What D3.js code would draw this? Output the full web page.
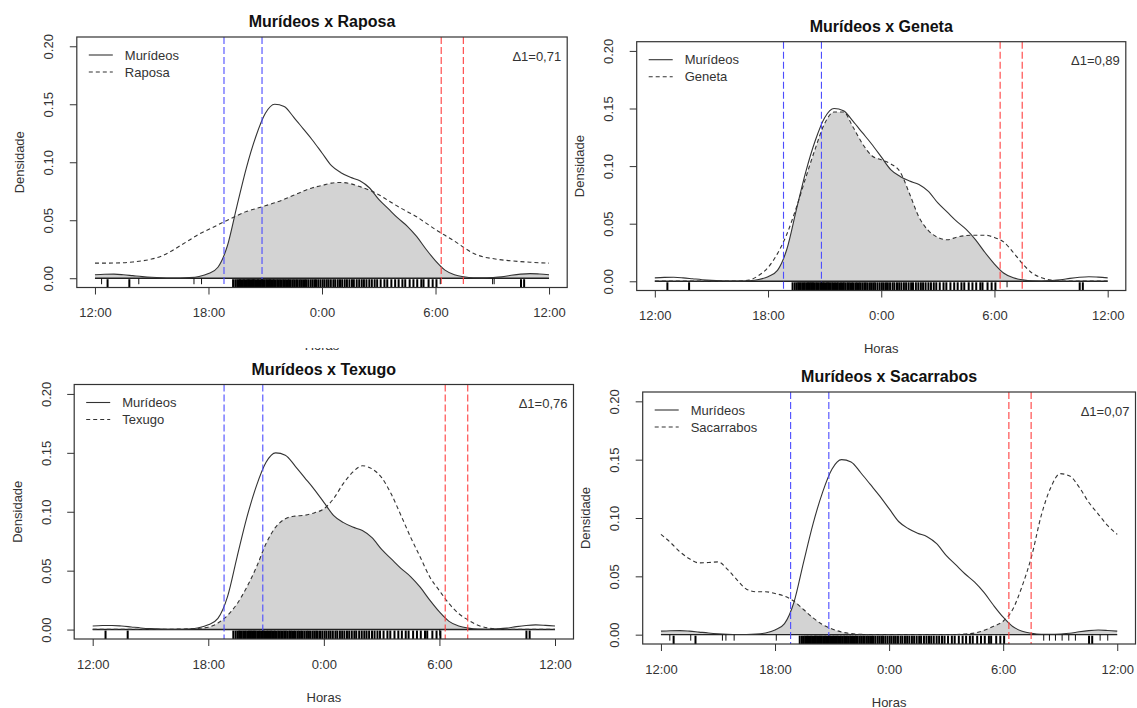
<!DOCTYPE html>
<html>
<head>
<meta charset="utf-8">
<script src="https://cdnjs.cloudflare.com/ajax/libs/d3/7.8.5/d3.min.js"></script>
<style>
  body { margin: 0; background: #fff; }
  svg { display: block; font-family: "Liberation Sans", Arial, sans-serif; }
</style>
</head>
<body>
<div id="chart"></div>
<script>
// horas relativas à meia-noite (-12 = 12:00 ... 0 = 0:00 ... 12 = 12:00)
const horas = [-12, -11.5, -11, -10.5, -10, -9.5, -9, -8.5, -8, -7.5, -7, -6.5,
    -6, -5.5, -5, -4.5, -4, -3.5, -3, -2.5, -2, -1.5, -1, -0.5,
    0, 0.5, 1, 1.5, 2, 2.5, 3, 3.5, 4, 4.5, 5, 5.5,
    6, 6.5, 7, 7.5, 8, 8.5, 9, 9.5, 10, 10.5, 11, 11.5, 12]

const murideos = [0.0030, 0.0034, 0.0035, 0.0030, 0.0022, 0.0014, 0.0008, 0.0004, 0.0002, 0.0002, 0.0005, 0.0015,
    0.0040, 0.0095, 0.0280, 0.0620, 0.0950, 0.1220, 0.1420, 0.1500, 0.1480, 0.1390, 0.1290, 0.1190,
    0.1080, 0.0970, 0.0910, 0.0870, 0.0840, 0.0780, 0.0680, 0.0600, 0.0520, 0.0450, 0.0360, 0.0250,
    0.0150, 0.0070, 0.0030, 0.0012, 0.0004, 0.0003, 0.0006, 0.0012, 0.0025, 0.0035, 0.0040, 0.0036,
    0.0030]
const raposa = [0.0130, 0.0130, 0.0131, 0.0133, 0.0140, 0.0150, 0.0165, 0.0190, 0.0230, 0.0280, 0.0330, 0.0380,
    0.0420, 0.0460, 0.0500, 0.0540, 0.0575, 0.0600, 0.0625, 0.0650, 0.0680, 0.0715, 0.0750, 0.0780,
    0.0800, 0.0820, 0.0826, 0.0815, 0.0790, 0.0760, 0.0720, 0.0670, 0.0620, 0.0575, 0.0530, 0.0475,
    0.0420, 0.0370, 0.0320, 0.0265, 0.0215, 0.0185, 0.0170, 0.0158, 0.0150, 0.0143, 0.0138, 0.0133,
    0.0130]
const geneta = [0.0002, 0.0002, 0.0002, 0.0002, 0.0002, 0.0002, 0.0002, 0.0002, 0.0002, 0.0003, 0.0010, 0.0050,
    0.0120, 0.0240, 0.0410, 0.0640, 0.0900, 0.1150, 0.1370, 0.1470, 0.1470, 0.1340, 0.1195, 0.1090,
    0.1055, 0.1020, 0.0950, 0.0760, 0.0557, 0.0440, 0.0380, 0.0360, 0.0383, 0.0397, 0.0400, 0.0400,
    0.0380, 0.0340, 0.0250, 0.0150, 0.0070, 0.0030, 0.0010, 0.0003, 0.0002, 0.0002, 0.0002, 0.0002,
    0.0002]
const texugo = [0.0002, 0.0002, 0.0002, 0.0002, 0.0002, 0.0002, 0.0002, 0.0002, 0.0003, 0.0004, 0.0006, 0.0010,
    0.0020, 0.0055, 0.0120, 0.0220, 0.0360, 0.0530, 0.0730, 0.0870, 0.0940, 0.0963, 0.0970, 0.0990,
    0.1025, 0.1110, 0.1237, 0.1336, 0.1390, 0.1364, 0.1290, 0.1150, 0.0970, 0.0785, 0.0616, 0.0446,
    0.0330, 0.0220, 0.0136, 0.0080, 0.0037, 0.0014, 0.0005, 0.0002, 0.0002, 0.0002, 0.0002, 0.0002,
    0.0002]
const sacarrabos = [0.0860, 0.0790, 0.0710, 0.0650, 0.0615, 0.0618, 0.0624, 0.0560, 0.0470, 0.0390, 0.0368, 0.0368,
    0.0353, 0.0330, 0.0287, 0.0216, 0.0144, 0.0086, 0.0049, 0.0023, 0.0009, 0.0003, 0.0001, 0.0001,
    0.0001, 0.0001, 0.0001, 0.0001, 0.0001, 0.0001, 0.0001, 0.0001, 0.0006, 0.0014, 0.0037, 0.0072,
    0.0115, 0.0216, 0.0417, 0.0675, 0.1020, 0.1260, 0.1380, 0.1360, 0.1264, 0.1135, 0.1034, 0.0934,
    0.0860]

// registos (rug)
const murideosRug = ['12:40', '13:49',
    '19:18', '19:25', '19:31', '19:36', '19:40', '19:44', '19:49', '19:53', '19:57', '20:02', '20:06', '20:09',
    '20:13', '20:17', '20:21', '20:24', '20:28', '20:33', '20:37', '20:41', '20:46', '20:50', '20:54', '20:58',
    '21:03', '21:07', '21:11', '21:15', '21:19', '21:24', '21:28', '21:33', '21:38', '21:42', '21:47', '21:52',
    '21:57', '22:01', '22:06', '22:12', '22:16', '22:21', '22:27', '22:32', '22:38', '22:43', '22:49', '22:54',
    '23:00', '23:06', '23:11', '23:17', '23:24', '23:30', '23:36', '23:41', '23:48', '23:55', '0:02', '0:08',
    '0:15', '0:21', '0:28', '0:36', '0:42', '0:50', '0:57', '1:04', '1:12', '1:19', '1:27', '1:35', '1:41',
    '1:50', '1:58', '2:06', '2:13', '2:21', '2:30', '2:38', '2:47', '2:55', '3:06', '3:18', '3:27', '3:40',
    '3:52', '4:03', '4:15', '4:24', '4:38', '4:50', '5:02', '5:15', '5:22', '5:38', '5:51', '6:03',
    '10:31', '10:41']
const raposaRug = ['12:21', '14:19', '17:14', '17:38', '6:15', '9:01', '9:06']
const genetaRug = ['6:40']
const texugoRug = ['6:01']
const sacarrabosRug = ['12:28', '13:34', '15:14', '15:25', '15:51', '18:04', '8:08', '8:26', '8:45', '9:06',
    '9:27', '9:48', '11:06', '11:30']

const especies = ['Raposa', 'Geneta', 'Texugo', 'Sacarrabos']
const deltas = ['0,71', '0,89', '0,76', '0,07']
const xTicks = [-12, -6, 0, 6, 12]
const xTickLabels = ['12:00', '18:00', '0:00', '6:00', '12:00']
const yTicks = [0, 0.05, 0.10, 0.15, 0.20]
// pôr / nascer do sol (horas relativas à meia-noite)
const linhasAzuis = [-5.18, -3.17]
const linhasVermelhas = [6.3, 7.47]

const dens = [raposa, geneta, texugo, sacarrabos]
const rugs = [raposaRug, genetaRug, texugoRug, sacarrabosRug]

// caixas de cada gráfico
const boxes = [
    { x0: 76.8, x1: 567.2, y0: 37, y1: 287.5 },
    { x0: 636.7, x1: 1125.8, y0: 41.7, y1: 290.5 },
    { x0: 74.2, x1: 573.5, y0: 384.5, y1: 639 },
    { x0: 642.7, x1: 1135.5, y0: 392, y1: 644 }
]

const toRel = s => {
    let [h, m] = s.split(':').map(Number)
    let v = h + m / 60
    return v >= 12 ? v - 24 : v
}

const svg = d3.select('#chart').append('svg')
    .attr('width', 1137)
    .attr('height', 708)

// o "Horas" do 1º gráfico fica quase escondido pela imagem de baixo
svg.append('clipPath').attr('id', 'cortaHoras')
    .append('rect').attr('x', 0).attr('y', 348).attr('width', 600).attr('height', 20)

const ink = '#333'

function panel (i) {
    let b = boxes[i]
    let g = svg.append('g')
    let x = d3.scaleLinear().domain([-12.96, 12.96]).range([b.x0, b.x1])
    let y = d3.scaleLinear().domain([-0.008, 0.208]).range([b.y1, b.y0])
    let A = horas.map((h, k) => [h, murideos[k]])
    let B = horas.map((h, k) => [h, dens[i][k]])

    let area = d3.area().x(d => x(d[0])).y0(y(0)).y1(d => y(d[1])).curve(d3.curveMonotoneX)
    let line = d3.line().x(d => x(d[0])).y(d => y(d[1])).curve(d3.curveMonotoneX)

    // área de sobreposição = área A recortada pela área B
    let clipId = 'clipB' + i
    svg.append('clipPath').attr('id', clipId)
        .append('path').attr('d', area(B))
    g.append('path')
        .attr('d', area(A))
        .attr('fill', '#d3d3d3')
        .attr('clip-path', `url(#${clipId})`)

    // linha do zero
    g.append('line')
        .attr('x1', x(-12)).attr('x2', x(12))
        .attr('y1', y(0)).attr('y2', y(0))
        .attr('stroke', '#222').attr('stroke-width', 1.4)

    g.append('path').attr('d', line(A))
        .attr('fill', 'none').attr('stroke', ink).attr('stroke-width', 1.1)
    g.append('path').attr('d', line(B))
        .attr('fill', 'none').attr('stroke', ink).attr('stroke-width', 1.1)
        .attr('stroke-dasharray', '4,3')

    // linhas verticais
    g.selectAll('line.azul').data(linhasAzuis).enter().append('line')
        .attr('x1', d => x(d)).attr('x2', d => x(d))
        .attr('y1', b.y0).attr('y2', b.y1)
        .attr('stroke', '#4d4dff').attr('stroke-width', 1.1)
        .attr('stroke-dasharray', '7,3')
    g.selectAll('line.verm').data(linhasVermelhas).enter().append('line')
        .attr('x1', d => x(d)).attr('x2', d => x(d))
        .attr('y1', b.y0).attr('y2', b.y1)
        .attr('stroke', '#ff4040').attr('stroke-width', 1.1)
        .attr('stroke-dasharray', '7,3')

    // rug
    g.append('g').selectAll('line').data(murideosRug.map(toRel)).enter().append('line')
        .attr('x1', d => x(d)).attr('x2', d => x(d))
        .attr('y1', b.y1).attr('y2', y(0) + 1)
        .attr('stroke', '#000').attr('stroke-width', 2)
    g.append('g').selectAll('line').data(rugs[i].map(toRel)).enter().append('line')
        .attr('x1', d => x(d)).attr('x2', d => x(d))
        .attr('y1', y(0)).attr('y2', y(0) + 6)
        .attr('stroke', '#111').attr('stroke-width', 1)

    // caixa
    g.append('rect')
        .attr('x', b.x0).attr('y', b.y0)
        .attr('width', b.x1 - b.x0).attr('height', b.y1 - b.y0)
        .attr('fill', 'none').attr('stroke', ink).attr('stroke-width', 1.2)

    // eixo x
    let ax = g.append('g')
        .attr('transform', `translate(0, ${b.y1})`)
        .call(d3.axisBottom(x).tickValues(xTicks).tickFormat((d, k) => xTickLabels[k]).tickSize(7))
    ax.select('.domain').remove()
    ax.selectAll('line').attr('stroke', ink)
    ax.selectAll('text')
        .attr('y', 29.5).attr('dy', null)
        .attr('font-size', 13).attr('fill', ink)
        .style('font-family', '"Liberation Sans", Arial, sans-serif')

    // eixo y
    let ay = g.append('g')
        .attr('transform', `translate(${b.x0}, 0)`)
        .call(d3.axisLeft(y).tickValues(yTicks).tickFormat(d3.format('.2f')).tickSize(7))
    ay.select('.domain').remove()
    ay.selectAll('line').attr('stroke', ink)
    ay.selectAll('text')
        .attr('x', null).attr('dy', null)
        .attr('transform', 'translate(-23.5, 0) rotate(-90)')
        .attr('text-anchor', 'middle')
        .attr('font-size', 13).attr('fill', ink)
        .style('font-family', '"Liberation Sans", Arial, sans-serif')

    // títulos
    g.append('text')
        .attr('x', (b.x0 + b.x1) / 2).attr('y', b.y0 - 10)
        .attr('text-anchor', 'middle')
        .attr('font-size', 16).attr('font-weight', 'bold').attr('fill', '#111')
        .text('Murídeos x ' + especies[i])
    g.append('text')
        .attr('x', (b.x0 + b.x1) / 2).attr('y', b.y1 + 62.5)
        .attr('text-anchor', 'middle')
        .attr('font-size', 13).attr('fill', ink)
        .attr('clip-path', i === 0 ? 'url(#cortaHoras)' : null)
        .text('Horas')
    g.append('text')
        .attr('transform', `translate(${b.x0 - 52.5}, ${(b.y0 + b.y1) / 2}) rotate(-90)`)
        .attr('text-anchor', 'middle')
        .attr('font-size', 13).attr('fill', ink)
        .text('Densidade')

    // legenda
    let leg = g.append('g')
    ;['Murídeos', especies[i]].forEach((name, k) => {
        let ly = b.y0 + 18 + k * 17
        leg.append('line')
            .attr('x1', b.x0 + 12).attr('x2', b.x0 + 36)
            .attr('y1', ly).attr('y2', ly)
            .attr('stroke', ink).attr('stroke-width', 1.1)
            .attr('stroke-dasharray', k ? '4,3' : null)
        leg.append('text')
            .attr('x', b.x0 + 48).attr('y', ly + 4.5)
            .attr('font-size', 13).attr('fill', ink)
            .text(name)
    })

    g.append('text')
        .attr('x', b.x1 - 6).attr('y', b.y0 + 23.5)
        .attr('text-anchor', 'end')
        .attr('font-size', 13).attr('fill', ink)
        .text('Δ1=' + deltas[i])
}

[0, 1, 2, 3].forEach(panel)
</script>
</body>
</html>
